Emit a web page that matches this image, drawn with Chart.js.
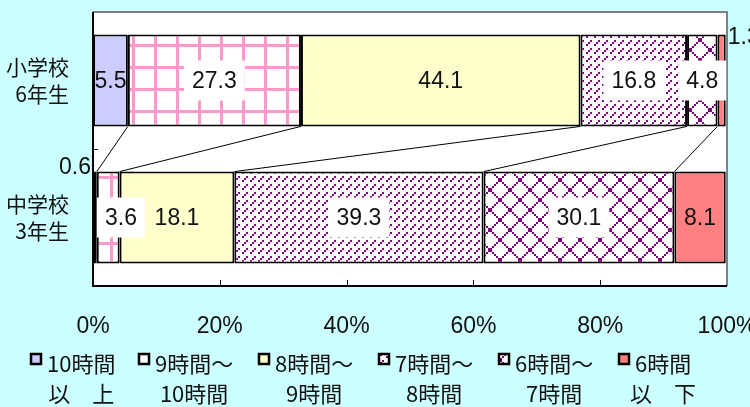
<!DOCTYPE html>
<html>
<head>
<meta charset="utf-8">
<script src="https://cdn.jsdelivr.net/npm/chart.js@4.4.1/dist/chart.umd.min.js"></script>
<style>
  html, body { margin: 0; padding: 0; background: #ccffff; }
  #wrap { position: relative; width: 750px; height: 407px; }
</style>
</head>
<body>
<div id="wrap"><canvas id="sleepChart"></canvas></div>
<script>
// categories (two-line labels)
const categories = [['小学校', '6年生'], ['中学校', '3年生']];
// series names (two-line legend labels)
const seriesNames = [
  ['10時間', '以　上'],
  ['9時間～', '10時間'],
  ['8時間～', '9時間'],
  ['7時間～', '8時間'],
  ['6時間～', '7時間'],
  ['6時間', '以　下']
];
// values in %
const over10 = [5.5, 0.6];
const from9to10 = [27.3, 3.6];
const from8to9 = [44.1, 18.1];
const from7to8 = [16.8, 39.3];
const from6to7 = [4.8, 30.1];
const under6 = [1.3, 8.1];
const xTicks = [0, 20, 40, 60, 80, 100];

const FONT_NUM = '"Liberation Sans Narrow", "Liberation Sans", Arial, sans-serif';
const FONT_JP = '"Liberation Sans Narrow", "Noto Sans CJK JP", sans-serif';

// fill patterns
function tile(size, draw) {
  const c = document.createElement('canvas');
  c.width = size; c.height = size;
  const g = c.getContext('2d');
  g.fillStyle = '#ffffff';
  g.fillRect(0, 0, size, size);
  draw(g);
  return g.createPattern(c, 'repeat');
}
const gridPink = tile(22, g => {
  g.fillStyle = '#ff99cc';
  g.fillRect(0, 0, 3, 22);
  g.fillRect(0, 0, 22, 3);
});
const diagPurple = tile(8, g => {
  g.fillStyle = '#800080';
  g.fillRect(6, 0, 2, 2);
  g.fillRect(4, 2, 2, 2);
  g.fillRect(2, 4, 2, 2);
});
const diamondPurple = tile(20, g => {
  g.fillStyle = '#800080';
  for (let i = 0; i < 20; i += 2) {
    g.fillRect(i, i, 2, 2);
    g.fillRect(18 - i, i, 2, 2);
  }
});

const seriesValues = [over10, from9to10, from8to9, from7to8, from6to7, under6];
const seriesFills = ['#ccccff', gridPink, '#ffffcc', diagPurple, diamondPurple, '#ff8080'];

const datasets = seriesValues.map((vals, i) => ({
  label: seriesNames[i],
  data: vals,
  backgroundColor: seriesFills[i],
  borderColor: '#000000',
  borderWidth: 2,
  borderSkipped: false,
  barPercentage: 0.67,
  categoryPercentage: 1.0
}));

// white plot area + frame
const plotFrame = {
  id: 'plotFrame',
  beforeDatasetsDraw(chart) {
    const { ctx, chartArea: a } = chart;
    ctx.save();
    ctx.fillStyle = '#ffffff';
    ctx.fillRect(a.left, a.top, a.right - a.left, a.bottom - a.top);
    ctx.restore();
  },
  afterDatasetsDraw(chart) {
    const { ctx, chartArea: a, scales } = chart;
    ctx.save();
    ctx.lineWidth = 2;
    ctx.strokeStyle = '#808080';
    ctx.beginPath();
    ctx.moveTo(a.left, a.top);
    ctx.lineTo(a.right, a.top);
    ctx.lineTo(a.right, a.bottom);
    ctx.stroke();
    ctx.strokeStyle = '#000000';
    ctx.beginPath();
    ctx.moveTo(a.left, a.top);
    ctx.lineTo(a.left, a.bottom);
    ctx.lineTo(a.right, a.bottom);
    ctx.stroke();
    // inside ticks
    ctx.lineWidth = 1;
    xTicks.slice(1, -1).forEach(v => {
      const x = Math.round(scales.x.getPixelForValue(v)) + 0.5;
      ctx.beginPath();
      ctx.moveTo(x, a.bottom);
      ctx.lineTo(x, a.bottom - 6);
      ctx.stroke();
    });
    const yMid = (a.top + a.bottom) / 2;
    ctx.beginPath();
    ctx.moveTo(a.left, Math.round(yMid) + 0.5);
    ctx.lineTo(a.left + 5, Math.round(yMid) + 0.5);
    ctx.stroke();
    ctx.restore();
  }
};

// series lines connecting the two bars
const seriesLines = {
  id: 'seriesLines',
  afterDatasetsDraw(chart) {
    const { ctx } = chart;
    ctx.save();
    ctx.strokeStyle = '#000000';
    ctx.lineWidth = 1;
    for (let d = 0; d < chart.data.datasets.length - 1; d++) {
      const meta = chart.getDatasetMeta(d);
      const top = meta.data[0], bot = meta.data[1];
      ctx.beginPath();
      ctx.moveTo(top.x, top.y + top.height / 2);
      ctx.lineTo(bot.x, bot.y - bot.height / 2);
      ctx.stroke();
    }
    ctx.restore();
  }
};

// value labels
const valueLabels = {
  id: 'valueLabels',
  afterDatasetsDraw(chart) {
    const { ctx, chartArea: a } = chart;
    ctx.save();
    ctx.font = '23px ' + FONT_NUM;
    ctx.textBaseline = 'middle';
    chart.data.datasets.forEach((ds, d) => {
      const meta = chart.getDatasetMeta(d);
      meta.data.forEach((el, i) => {
        const v = ds.data[i];
        const txt = v.toFixed(1);
        const left = Math.min(el.x, el.base), right = Math.max(el.x, el.base);
        const top = el.y - el.height / 2;
        ctx.fillStyle = '#111111';
        if (v < 2) {
          if ((left + right) / 2 < (a.left + a.right) / 2) {
            ctx.textAlign = 'right';
            ctx.fillText(txt, a.left - 2, top - 4);
          } else {
            ctx.textAlign = 'left';
            ctx.fillText(txt, right + 2, top + 3);
          }
          return;
        }
        const w = ctx.measureText(txt).width;
        let cx = (left + right) / 2;
        if (typeof ds.backgroundColor !== 'string') {
          const bw = w + 16, bh = 40;
          let bx = cx - bw / 2;
          if (bx < a.left + 4) bx = a.left + 4;
          cx = bx + bw / 2;
          ctx.fillStyle = '#ffffff';
          ctx.fillRect(bx, el.y - bh / 2, bw, bh);
          ctx.fillStyle = '#111111';
        }
        ctx.textAlign = 'center';
        ctx.fillText(txt, cx, el.y + 1);
      });
    });
    ctx.restore();
  }
};

// two-line legend at the bottom
const legendX = [30, 138, 258, 378, 498, 618];
const bottomLegend = {
  id: 'bottomLegend',
  afterDraw(chart) {
    const { ctx } = chart;
    ctx.save();
    ctx.font = '22px ' + FONT_JP;
    ctx.textBaseline = 'middle';
    chart.data.datasets.forEach((ds, i) => {
      const x = legendX[i];
      ctx.fillStyle = ds.backgroundColor;
      ctx.fillRect(x, 353, 12, 12);
      ctx.lineWidth = 2.5;
      ctx.strokeStyle = '#000000';
      ctx.strokeRect(x + 1, 354, 10, 10);
      const [l1, l2] = ds.label;
      const w1 = ctx.measureText(l1).width;
      ctx.fillStyle = '#111111';
      ctx.textAlign = 'left';
      ctx.fillText(l1, x + 17, 364);
      ctx.textAlign = 'center';
      ctx.fillText(l2, x + 17 + w1 / 2, 394);
    });
    ctx.restore();
  }
};

new Chart(document.getElementById('sleepChart'), {
  type: 'bar',
  data: { labels: categories, datasets },
  options: {
    indexAxis: 'y',
    responsive: true,
    maintainAspectRatio: false,
    animation: false,
    layout: { padding: { top: 12, right: 23, left: 0, bottom: 0 } },
    plugins: {
      legend: { display: false },
      tooltip: { enabled: false }
    },
    scales: {
      x: {
        stacked: true,
        min: 0,
        max: 100,
        afterBuildTicks(scale) { scale.ticks = xTicks.map(v => ({ value: v })); },
        afterFit(scale) {
          scale.height = 121;
          scale.paddingLeft = 0;
          scale.paddingRight = 0;
        },
        grid: { display: false, drawTicks: false },
        border: { display: false },
        ticks: {
          padding: 27,
          color: '#111111',
          font: { family: FONT_NUM, size: 23 },
          maxRotation: 0,
          callback: v => v + '%'
        }
      },
      y: {
        stacked: true,
        afterFit(scale) {
          scale.width = 93;
          scale.paddingTop = 0;
          scale.paddingBottom = 0;
        },
        grid: { display: false, drawTicks: false },
        border: { display: false },
        ticks: {
          padding: 24,
          color: '#111111',
          font: { family: FONT_JP, size: 21, lineHeight: 1.25 }
        }
      }
    }
  },
  plugins: [plotFrame, seriesLines, valueLabels, bottomLegend]
});
</script>
</body>
</html>
